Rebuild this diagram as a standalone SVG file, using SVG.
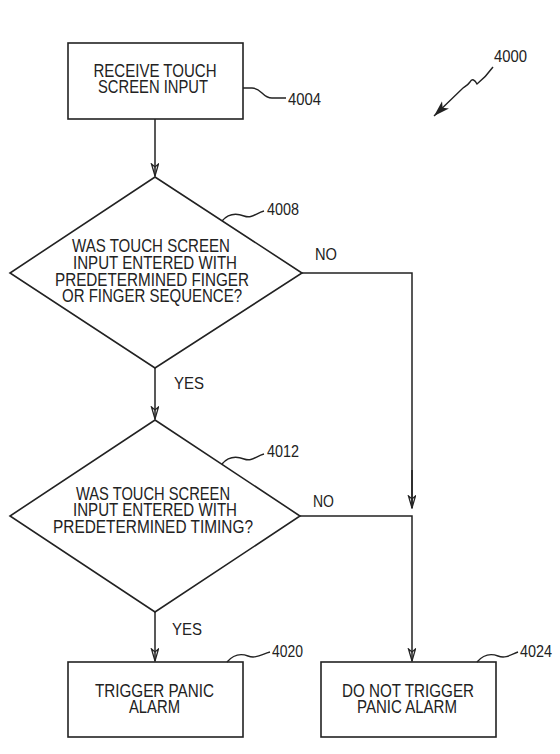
<svg xmlns="http://www.w3.org/2000/svg" width="560" height="754" viewBox="0 0 560 754">
<style>
.shape{fill:#fff;stroke:#222;stroke-width:1.6}
.conn{fill:none;stroke:#222;stroke-width:1.5}
.lead{fill:none;stroke:#222;stroke-width:1.4}
text{font-family:"Liberation Sans Narrow","Liberation Sans",Arial,sans-serif;font-size:18px;fill:#222}
.c{text-anchor:middle}
.lbl{font-size:17px}
</style>
<defs>
<marker id="arr" markerUnits="userSpaceOnUse" markerWidth="14" markerHeight="10" refX="13" refY="4" orient="auto">
<path d="M1,0.5 L13,4 L1,7.5 L4,4 Z" fill="none" stroke="#222" stroke-width="1.3"/>
</marker>
<marker id="arrf" markerUnits="userSpaceOnUse" markerWidth="18" markerHeight="12" refX="16" refY="5" orient="auto">
<path d="M0,0 L16,5 L0,10 L4,5 Z" fill="#222"/>
</marker>
</defs>
<g id="connectors">
<path class="conn" d="M155,119 L155,176" marker-end="url(#arr)"/>
<path class="conn" d="M155,368 L155,419" marker-end="url(#arr)"/>
<path class="conn" d="M155,612 L155,661" marker-end="url(#arr)"/>
<path class="conn" d="M302,273 L412,273 L412,508"/>
<path class="conn" d="M300,516 L412,516 L412,661" marker-end="url(#arr)"/>
<path class="conn" d="M412,470 L412,508" marker-end="url(#arr)"/>
<text class="lbl" x="315" y="260" textLength="22" lengthAdjust="spacingAndGlyphs">NO</text>
<text class="lbl" x="174" y="389" textLength="30" lengthAdjust="spacingAndGlyphs">YES</text>
<text class="lbl" x="313" y="507" textLength="21" lengthAdjust="spacingAndGlyphs">NO</text>
<text class="lbl" x="172" y="635" textLength="30" lengthAdjust="spacingAndGlyphs">YES</text>
</g>
<g id="n4000">
<path class="lead" d="M493,67 C488,74 482,80 477,84 C475,80 472,78 470,82 C468,85 466,86 463,88 L434,116" marker-end="url(#arrf)"/>
<text class="lbl" x="494" y="62" textLength="33" lengthAdjust="spacingAndGlyphs">4000</text>
</g>
<g id="n4004">
<rect class="shape" x="68" y="43" width="175" height="76"/>
<text class="c" x="155" y="77" textLength="123" lengthAdjust="spacingAndGlyphs">RECEIVE TOUCH</text>
<text class="c" x="153" y="93" textLength="110" lengthAdjust="spacingAndGlyphs">SCREEN INPUT</text>
<path class="lead" d="M243,88 L252,88 C262,88 262,98 272,98 L286,98"/>
<text class="lbl" x="288" y="105" textLength="33" lengthAdjust="spacingAndGlyphs">4004</text>
</g>
<g id="n4008">
<polygon class="shape" points="155,177 302,273 155,368 10,273"/>
<text class="c" x="151" y="252" textLength="158" lengthAdjust="spacingAndGlyphs">WAS TOUCH SCREEN</text>
<text class="c" x="155" y="269" textLength="164" lengthAdjust="spacingAndGlyphs">INPUT ENTERED WITH</text>
<text class="c" x="152" y="286" textLength="194" lengthAdjust="spacingAndGlyphs">PREDETERMINED FINGER</text>
<text class="c" x="152" y="302" textLength="180" lengthAdjust="spacingAndGlyphs">OR FINGER SEQUENCE?</text>
<path class="lead" d="M222,221 C228,214 236,213 244,216 C252,219 256,213 264,211"/>
<text class="lbl" x="267" y="215" textLength="32" lengthAdjust="spacingAndGlyphs">4008</text>
</g>
<g id="n4012">
<polygon class="shape" points="155,420 300,516 155,612 10,516"/>
<text class="c" x="153" y="500" textLength="154" lengthAdjust="spacingAndGlyphs">WAS TOUCH SCREEN</text>
<text class="c" x="155" y="516" textLength="164" lengthAdjust="spacingAndGlyphs">INPUT ENTERED WITH</text>
<text class="c" x="153" y="533" textLength="200" lengthAdjust="spacingAndGlyphs">PREDETERMINED TIMING?</text>
<path class="lead" d="M222,464 C228,457 236,456 244,459 C252,462 256,456 264,454"/>
<text class="lbl" x="267" y="457" textLength="32" lengthAdjust="spacingAndGlyphs">4012</text>
</g>
<g id="n4020">
<rect class="shape" x="68" y="662" width="175" height="75"/>
<text class="c" x="154.5" y="697" textLength="119" lengthAdjust="spacingAndGlyphs">TRIGGER PANIC</text>
<text class="c" x="154.5" y="713" textLength="51" lengthAdjust="spacingAndGlyphs">ALARM</text>
<path class="lead" d="M227,662 C233,655 240,653 248,656 C256,659 262,654 270,652"/>
<text class="lbl" x="272" y="657" textLength="31" lengthAdjust="spacingAndGlyphs">4020</text>
</g>
<g id="n4024">
<rect class="shape" x="321" y="662" width="175" height="75"/>
<text class="c" x="408" y="697" textLength="132" lengthAdjust="spacingAndGlyphs">DO NOT TRIGGER</text>
<text class="c" x="407" y="713" textLength="100" lengthAdjust="spacingAndGlyphs">PANIC ALARM</text>
<path class="lead" d="M477,662 C483,655 490,653 498,656 C506,659 512,654 518,652"/>
<text class="lbl" x="520" y="657" textLength="32" lengthAdjust="spacingAndGlyphs">4024</text>
</g>
</svg>
